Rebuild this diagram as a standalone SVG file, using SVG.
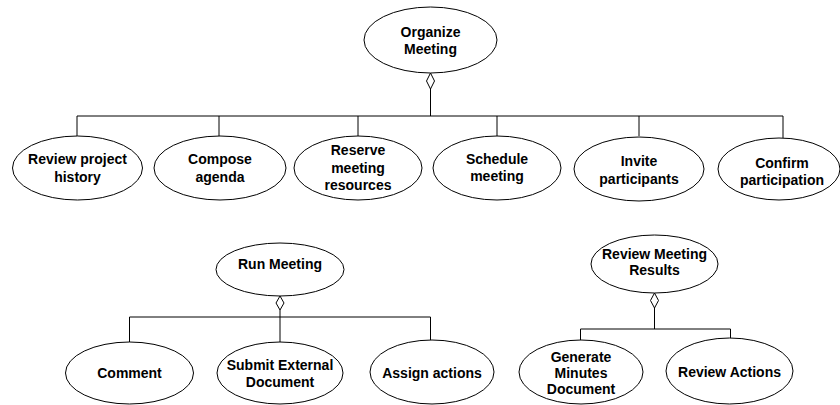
<svg xmlns="http://www.w3.org/2000/svg" width="840" height="405" viewBox="0 0 840 405">
<style>
.n ellipse{fill:#fff;stroke:#000;stroke-width:1}
.n text{font-family:"Liberation Sans",Arial,sans-serif;font-size:14px;font-weight:bold;fill:#000;text-anchor:middle}
.c path{fill:none;stroke:#000;stroke-width:1}
.c polygon{fill:#fff;stroke:#000;stroke-width:1}
</style>
<rect width="840" height="405" fill="#fff"/>
<g class="c" id="connectors">
<path d="M430.5 89V116M77 116H783M77 116V136M219 116V136M358 116V136M497 116V136M639 116V136M783 116V138"/>
<polygon points="430.5,73 434.5,81 430.5,89 426.5,81"/>
<path d="M280 310V317M129.5 317H430.5M129.5 317V342M280 317V342M430.5 317V340"/>
<polygon points="280,296 284,303 280,310 276,303"/>
<path d="M654.5 308V329M580.5 329H730.5M580.5 329V340M730.5 329V339"/>
<polygon points="654.5,293 658.5,300.5 654.5,308 650.5,300.5"/>
</g>
<g class="n" id="organize-meeting"><ellipse cx="430.5" cy="40" rx="66.5" ry="33"/><text x="430.5" y="37">Organize</text><text x="430.5" y="54">Meeting</text></g>
<g class="n" id="review-project-history"><ellipse cx="77.5" cy="168" rx="65" ry="32"/><text x="77.5" y="164">Review project</text><text x="77.5" y="182">history</text></g>
<g class="n" id="compose-agenda"><ellipse cx="220" cy="168" rx="66" ry="32"/><text x="220" y="164">Compose</text><text x="220" y="182">agenda</text></g>
<g class="n" id="reserve-meeting-resources"><ellipse cx="358" cy="168" rx="64" ry="32"/><text x="358" y="155">Reserve</text><text x="358" y="173">meeting</text><text x="358" y="190">resources</text></g>
<g class="n" id="schedule-meeting"><ellipse cx="497" cy="168" rx="64" ry="32"/><text x="497" y="164">Schedule</text><text x="497" y="181">meeting</text></g>
<g class="n" id="invite-participants"><ellipse cx="639" cy="169" rx="65" ry="32"/><text x="639" y="166">Invite</text><text x="639" y="184">participants</text></g>
<g class="n" id="confirm-participation"><ellipse cx="779" cy="169" rx="61" ry="31"/><text x="782" y="168">Confirm</text><text x="782" y="185">participation</text></g>
<g class="n" id="run-meeting"><ellipse cx="280" cy="269.5" rx="64" ry="26.5"/><text x="280" y="269">Run Meeting</text></g>
<g class="n" id="comment"><ellipse cx="129.5" cy="373" rx="64" ry="31"/><text x="129.5" y="378">Comment</text></g>
<g class="n" id="submit-external-document"><ellipse cx="280" cy="373" rx="63" ry="31"/><text x="280" y="370">Submit External</text><text x="280" y="387">Document</text></g>
<g class="n" id="assign-actions"><ellipse cx="432" cy="372" rx="62" ry="32"/><text x="432" y="378">Assign actions</text></g>
<g class="n" id="review-meeting-results"><ellipse cx="654.5" cy="264" rx="63.5" ry="29"/><text x="654.5" y="259">Review Meeting</text><text x="654.5" y="275">Results</text></g>
<g class="n" id="generate-minutes-document"><ellipse cx="581" cy="372" rx="62" ry="32"/><text x="581" y="362">Generate</text><text x="581" y="378">Minutes</text><text x="581" y="394">Document</text></g>
<g class="n" id="review-actions"><ellipse cx="729.5" cy="371" rx="63.5" ry="33"/><text x="729.5" y="377">Review Actions</text></g>
</svg>
